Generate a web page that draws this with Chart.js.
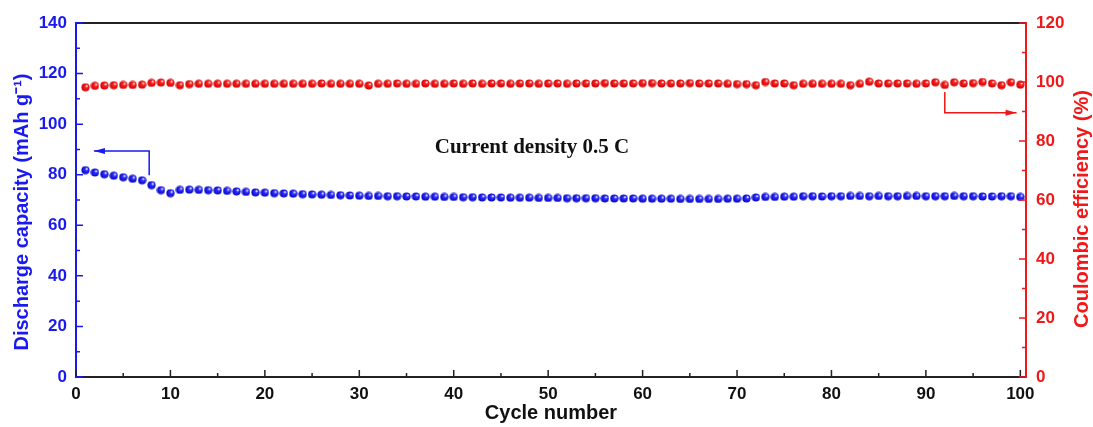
<!DOCTYPE html>
<html>
<head>
<meta charset="utf-8">
<script src="https://cdn.jsdelivr.net/npm/chart.js@4.4.1/dist/chart.umd.min.js"></script>
<style>
  html, body { margin: 0; padding: 0; background: #fff; }
  #wrap { width: 1093px; height: 427px; }
</style>
</head>
<body>
<div id="wrap"><canvas id="cycleChart"></canvas></div>
<script>
// Cycle data
const cycles = [];
for (let i = 1; i <= 100; i++) cycles.push(i);

const capacity = [
  81.8, 80.9, 80.2, 79.6, 79.0, 78.4, 77.8, 75.9, 73.9, 72.7,
  74.0, 74.1, 74.0, 73.9, 73.8, 73.6, 73.4, 73.2, 73.0, 72.9,
  72.7, 72.6, 72.5, 72.3, 72.2, 72.1, 72.0, 71.9, 71.8, 71.7,
  71.6, 71.6, 71.5, 71.5, 71.4, 71.4, 71.3, 71.3, 71.2, 71.2,
  71.1, 71.1, 71.0, 71.0, 71.0, 70.9, 70.9, 70.9, 70.8, 70.8,
  70.8, 70.7, 70.7, 70.7, 70.7, 70.6, 70.6, 70.6, 70.6, 70.5,
  70.5, 70.5, 70.5, 70.4, 70.4, 70.4, 70.4, 70.4, 70.5, 70.5,
  70.6, 71.0, 71.2, 71.2, 71.3, 71.3, 71.5, 71.5, 71.4, 71.5,
  71.5, 71.6, 71.6, 71.5, 71.6, 71.5, 71.5, 71.6, 71.6, 71.5,
  71.5, 71.5, 71.6, 71.5, 71.5, 71.4, 71.4, 71.5, 71.5, 71.2
];

const efficiency = [
  98.2, 98.7, 98.8, 98.9, 99.0, 99.0, 99.1, 99.7, 99.8, 99.7,
  98.9, 99.3, 99.4, 99.4, 99.4, 99.4, 99.4, 99.4, 99.4, 99.4,
  99.4, 99.4, 99.4, 99.4, 99.4, 99.5, 99.4, 99.4, 99.4, 99.4,
  98.8, 99.4, 99.4, 99.5, 99.4, 99.4, 99.5, 99.4, 99.4, 99.5,
  99.4, 99.5, 99.4, 99.5, 99.5, 99.4, 99.5, 99.5, 99.4, 99.5,
  99.5, 99.4, 99.5, 99.5, 99.5, 99.6, 99.5, 99.5, 99.5, 99.6,
  99.6, 99.5, 99.5, 99.5, 99.6, 99.5, 99.5, 99.5, 99.4, 99.3,
  99.3, 98.9, 100.0, 99.5, 99.5, 98.9, 99.4, 99.4, 99.4, 99.4,
  99.4, 98.9, 99.4, 100.1, 99.5, 99.5, 99.5, 99.5, 99.4, 99.5,
  99.9, 99.0, 99.9, 99.5, 99.6, 100.0, 99.5, 98.9, 99.9, 99.1
];

const xTicks = [0, 10, 20, 30, 40, 50, 60, 70, 80, 90, 100];
const leftTicks = [0, 20, 40, 60, 80, 100, 120, 140];
const rightTicks = [0, 20, 40, 60, 80, 100, 120];

const BLUE = "#1a1aee";
const RED = "#f01818";
const FONT = "'Liberation Sans', Arial, sans-serif";

// shaded ball markers
function ball(color, dark) {
  const c = document.createElement("canvas");
  const s = 9;
  c.width = s; c.height = s;
  const g = c.getContext("2d");
  const grad = g.createRadialGradient(6, 3, 0.3, 4.5, 4.5, 4.4);
  grad.addColorStop(0, "#ffffff");
  grad.addColorStop(0.3, color);
  grad.addColorStop(1, dark);
  g.fillStyle = grad;
  g.beginPath();
  g.arc(4.5, 4.5, 4.1, 0, Math.PI * 2);
  g.fill();
  return c;
}

const pts = (ys) => cycles.map((x, i) => ({ x: x, y: ys[i] }));

// axes, inward ticks, titles, arrows and note
const decorations = {
  id: "decorations",
  afterDatasetsDraw(chart) {
    const ctx = chart.ctx;
    const a = chart.chartArea;
    const xs = chart.scales.x, yl = chart.scales.y, yr = chart.scales.y1;
    ctx.save();

    // frame
    ctx.lineWidth = 2;
    ctx.strokeStyle = "#222";
    ctx.beginPath();
    ctx.moveTo(a.left, a.top); ctx.lineTo(a.right, a.top);
    ctx.moveTo(a.left, a.bottom); ctx.lineTo(a.right, a.bottom);
    ctx.stroke();
    ctx.strokeStyle = BLUE;
    ctx.beginPath(); ctx.moveTo(a.left, a.top - 1); ctx.lineTo(a.left, a.bottom + 1); ctx.stroke();
    ctx.strokeStyle = RED;
    ctx.beginPath(); ctx.moveTo(a.right, a.top - 1); ctx.lineTo(a.right, a.bottom + 1); ctx.stroke();

    // x ticks
    ctx.lineWidth = 1.5;
    ctx.strokeStyle = "#222";
    ctx.beginPath();
    for (let v = 0; v <= 100; v += 5) {
      const px = xs.getPixelForValue(v);
      const len = v % 10 === 0 ? 7 : 4;
      ctx.moveTo(px, a.bottom); ctx.lineTo(px, a.bottom - len);
    }
    ctx.stroke();
    // left ticks
    ctx.strokeStyle = BLUE;
    ctx.beginPath();
    for (let v = 0; v <= 140; v += 10) {
      const py = yl.getPixelForValue(v);
      const len = v % 20 === 0 ? 7 : 4;
      ctx.moveTo(a.left, py); ctx.lineTo(a.left + len, py);
    }
    ctx.stroke();
    // right ticks
    ctx.strokeStyle = RED;
    ctx.beginPath();
    for (let v = 0; v <= 120; v += 10) {
      const py = yr.getPixelForValue(v);
      const len = v % 20 === 0 ? 7 : 4;
      ctx.moveTo(a.right, py); ctx.lineTo(a.right - len, py);
    }
    ctx.stroke();

    // titles
    ctx.font = "bold 20px " + FONT;
    ctx.textAlign = "center";
    ctx.textBaseline = "middle";
    ctx.fillStyle = "#111";
    ctx.fillText("Cycle number", 551, 413);

    ctx.save();
    ctx.translate(22, 212);
    ctx.rotate(-Math.PI / 2);
    ctx.fillStyle = BLUE;
    ctx.fillText("Discharge capacity (mAh g\u207B\u00B9)", 0, 0);
    ctx.restore();

    ctx.save();
    ctx.translate(1082, 209);
    ctx.rotate(-Math.PI / 2);
    ctx.fillStyle = RED;
    ctx.fillText("Coulombic efficiency (%)", 0, 0);
    ctx.restore();

    // note
    ctx.font = "bold 21px 'Liberation Serif', 'Times New Roman', serif";
    ctx.fillStyle = "#111";
    ctx.fillText("Current density 0.5 C", 532, 148);

    // arrows
    function arrow(color, pts, dir) {
      ctx.strokeStyle = color;
      ctx.fillStyle = color;
      ctx.lineWidth = 1.5;
      ctx.beginPath();
      ctx.moveTo(pts[0][0], pts[0][1]);
      for (let i = 1; i < pts.length; i++) ctx.lineTo(pts[i][0], pts[i][1]);
      ctx.stroke();
      const t = pts[pts.length - 1];
      ctx.beginPath();
      ctx.moveTo(t[0], t[1]);
      ctx.lineTo(t[0] - dir * 11, t[1] - 3);
      ctx.lineTo(t[0] - dir * 11, t[1] + 3);
      ctx.closePath();
      ctx.fill();
    }
    const bx = xs.getPixelForValue(7.75);
    arrow(BLUE, [
      [bx, yl.getPixelForValue(79.8)],
      [bx, yl.getPixelForValue(89.4)],
      [xs.getPixelForValue(1.9), yl.getPixelForValue(89.4)]
    ], -1);
    const rx = xs.getPixelForValue(92);
    arrow(RED, [
      [rx, yr.getPixelForValue(96.6)],
      [rx, yr.getPixelForValue(89.6)],
      [xs.getPixelForValue(99.6), yr.getPixelForValue(89.6)]
    ], 1);

    ctx.restore();
  }
};

const ctx = document.getElementById("cycleChart").getContext("2d");
new Chart(ctx, {
  type: "scatter",
  data: {
    datasets: [
      {
        label: "Discharge capacity",
        data: pts(capacity),
        yAxisID: "y",
        pointStyle: ball("#3030ff", "#0000c0"),
        pointRadius: 4,
        showLine: false
      },
      {
        label: "Coulombic efficiency",
        data: pts(efficiency),
        yAxisID: "y1",
        pointStyle: ball("#ff2020", "#c80000"),
        pointRadius: 4,
        showLine: false
      }
    ]
  },
  options: {
    responsive: true,
    maintainAspectRatio: false,
    animation: false,
    layout: { padding: { top: 23, left: 0, right: 0, bottom: 0 } },
    plugins: {
      legend: { display: false },
      tooltip: { enabled: false }
    },
    scales: {
      x: {
        type: "linear",
        min: 0,
        max: 100.6,
        afterFit: (s) => { s.height = 50; },
        afterBuildTicks: (s) => { s.ticks = xTicks.map(v => ({ value: v })); },
        grid: { display: false, tickLength: 0 },
        border: { display: false },
        ticks: { color: "#111", padding: 7, maxRotation: 0, font: { family: FONT, size: 17, weight: "bold" } }
      },
      y: {
        position: "left",
        min: 0,
        max: 140,
        afterFit: (s) => { s.width = 76; },
        afterBuildTicks: (s) => { s.ticks = leftTicks.map(v => ({ value: v })); },
        grid: { display: false, tickLength: 0 },
        border: { display: false },
        ticks: { color: BLUE, padding: 9, font: { family: FONT, size: 17, weight: "bold" } }
      },
      y1: {
        position: "right",
        min: 0,
        max: 120,
        afterFit: (s) => { s.width = 67; },
        afterBuildTicks: (s) => { s.ticks = rightTicks.map(v => ({ value: v })); },
        grid: { display: false, tickLength: 0 },
        border: { display: false },
        ticks: { color: RED, padding: 10, font: { family: FONT, size: 17, weight: "bold" } }
      }
    }
  },
  plugins: [decorations]
});
</script>
</body>
</html>
